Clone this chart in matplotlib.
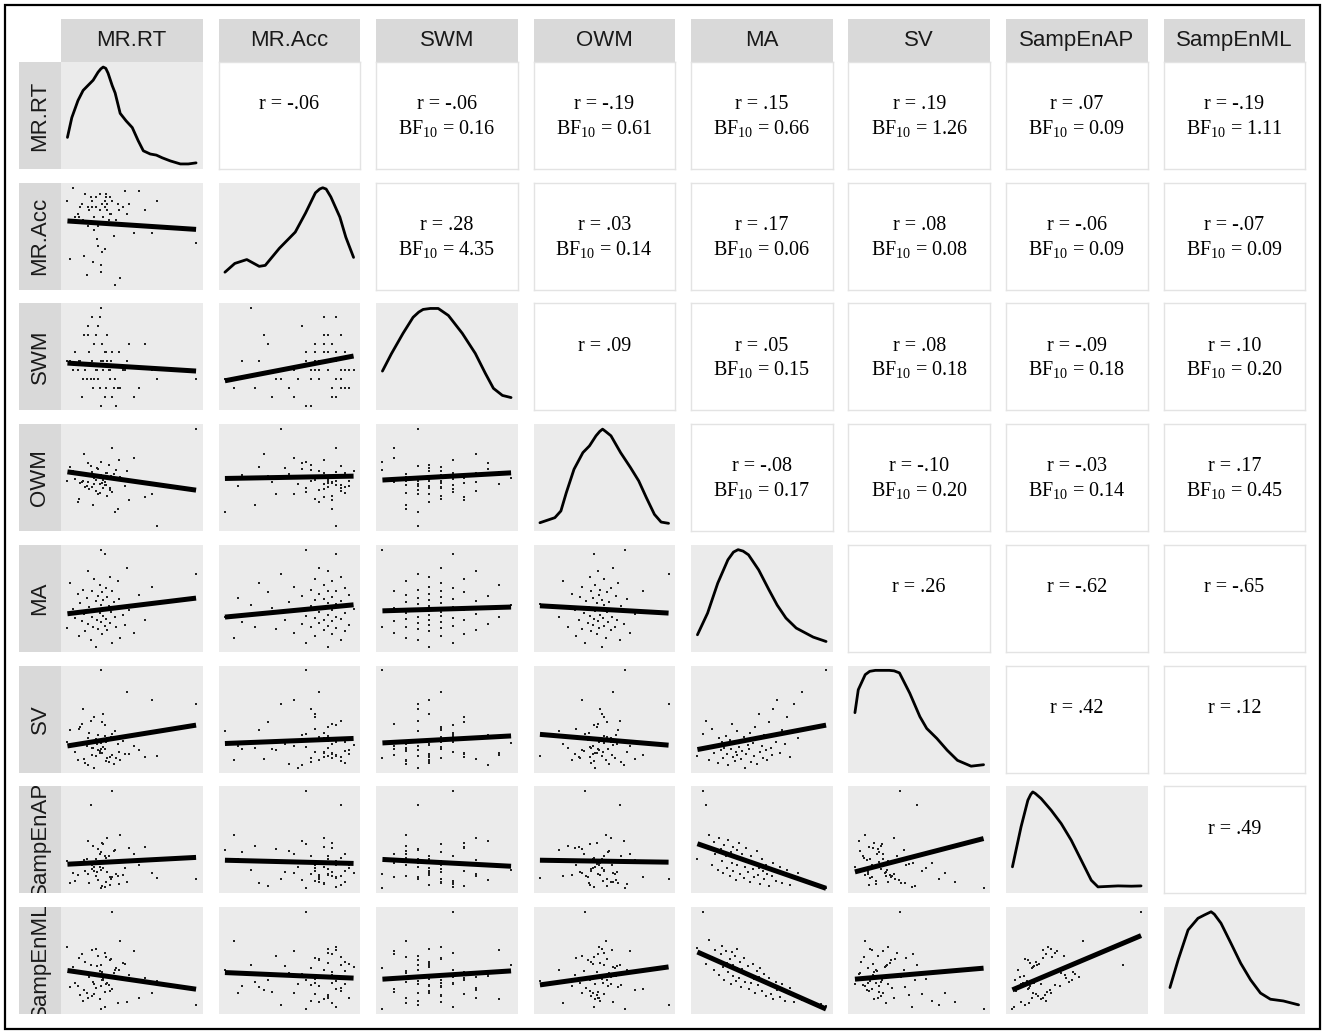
import numpy as np
import matplotlib
matplotlib.use("Agg")
import matplotlib.pyplot as plt
from matplotlib.patches import Rectangle

plt.rcParams['mathtext.fontset'] = 'custom'
plt.rcParams['mathtext.rm'] = 'Liberation Serif'
plt.rcParams['mathtext.default'] = 'rm'

names = ["MR.RT", "MR.Acc", "SWM", "OWM", "MA", "SV", "SampEnAP", "SampEnML"]

# participant scores (one entry per participant)
mr_rt = [22, 35, 18, 41, 9, 27, 52, 14, 31, 24, 0, 38, 20, 29, 45, 16, 33, 26, 11, 60, 23, 30,
         6, 37, 19, 28, 43, 13, 25, 34, 21, 48, 4, 29, 17, 32, 26, 70, 10, 36, 22, 28, 40, 15,
         31, 24, 56, 8, 27, 19, 35, 12, 30, 66, 25, 2, 39, 21, 33, 100, 16, 46, 29, 26]
mr_acc = [34, 29, 37, 12, 31, 35, 26, 38, 33, 22, 36, 30, 17, 34, 39, 28, 32, 14, 35, 33, 24, 37,
          31, 10, 36, 29, 34, 19, 38, 32, 27, 35, 40, 21, 33, 30, 16, 36, 34, 25, 37, 31, 33, 13,
          35, 28, 39, 32, 20, 34, 36, 30, 38, 26, 33, 18, 35, 31, 37, 23, 34, 32, 36, 29]
swm = [5, 7, 4, 3, 6, 8, 2, 5, 9, 4, 6, 1, 3, 7, 5, 10, 4, 6, 2, 8, 5, 3, 7, 4, 11, 6, 5, 9, 3, 6,
       4, 8, 5, 2, 7, 5, 12, 4, 6, 3, 9, 5, 7, 4, 6, 10, 3, 5, 8, 6, 2, 4, 7, 5, 11, 6, 3, 8, 5, 4,
       9, 6, 7, 1]
owm = [48, 35, 62, 51, 28, 44, 70, 40, 55, 33, 46, 58, 22, 50, 41, 65, 37, 53, 45, 30, 60, 42,
       49, 15, 56, 39, 47, 74, 34, 52, 43, 27, 57, 45, 38, 63, 50, 0, 44, 54, 36, 48, 68, 41,
       31, 59, 46, 25, 52, 40, 80, 47, 55, 33, 43, 61, 18, 50, 39, 100, 45, 57, 42, 66]
ma = [0, 4, 7, 9, 11, 13, 14, 16, 17, 18, 19, 20, 21, 22, 23, 24, 25, 26, 27, 28, 28, 29, 30, 31,
      31, 32, 33, 34, 35, 36, 37, 38, 39, 40, 41, 42, 43, 44, 45, 46, 47, 48, 49, 50, 51, 52, 53,
      54, 56, 57, 58, 59, 61, 62, 64, 66, 68, 70, 72, 75, 78, 81, 96, 100]
sv = [12, 35, 48, 8, 40, 15, 22, 5, 30, 18, 26, 10, 20, 33, 14, 3, 28, 19, 45, 11, 24, 7, 16, 38,
      13, 21, 27, 9, 17, 31, 0, 14, 23, 19, 36, 6, 25, 12, 42, 4, 29, 55, 16, 22, 10, 34, 18, 8,
      47, 20, 13, 60, 26, 70, 15, 39, 24, 52, 11, 65, 30, 78, 44, 100]
sampen_ap = [30, 100, 86, 55, 24, 47, 35, 18, 52, 40, 28, 15, 44, 33, 21, 49, 12, 37, 26, 42, 17,
             31, 8, 39, 24, 46, 14, 29, 35, 10, 22, 41, 16, 27, 6, 33, 19, 11, 25, 38, 13, 21,
             4, 30, 17, 9, 24, 14, 2, 20, 12, 26, 7, 16, 22, 5, 13, 18, 3, 10, 15, 7, 1, 0]
sampen_ml = [62, 100, 45, 70, 52, 38, 60, 48, 33, 55, 64, 42, 28, 58, 46, 36, 50, 24, 57, 32, 44,
             53, 27, 40, 61, 30, 47, 20, 39, 51, 26, 35, 43, 18, 33, 25, 45, 29, 14, 37, 22, 31,
             40, 16, 27, 34, 11, 24, 30, 13, 21, 8, 26, 17, 10, 23, 6, 15, 19, 4, 11, 7, 2, 0]

# density curves (x in variable units, height relative to peak)
dens_x = {
    "MR.RT": [0, 3.4, 8.2, 12.2, 15.9, 20, 23.8, 26, 27.8, 29.8, 31.6, 34.8, 37.1, 41, 45.6, 50.4,
              55, 59, 64.4, 69.1, 73.7, 80, 87.8, 94, 100],
    "MR.Acc": [10, 12.3, 15.1, 18.0, 19.4, 22.7, 26.4, 28.8, 31.1, 32.1, 32.8, 33.6, 34.7, 36.8,
               38.2, 40],
    "SWM": [1.0, 1.77, 2.76, 3.62, 4.1, 4.48, 5.1, 5.77, 6.64, 7.83, 8.94, 9.8, 10.49, 11.26, 12.0],
    "OWM": [0, 11.6, 16.3, 20.5, 26.5, 33.4, 38.5, 43.6, 46.5, 48.7, 51, 55.2, 62.7, 70.4, 76.8,
            82.7, 89, 94.2, 100],
    "MA": [0, 7.9, 15.8, 23.7, 28, 31.6, 35.5, 39.7, 47.6, 55.6, 62, 68.8, 76.8, 90, 100],
    "SV": [0, 2.6, 8, 11.5, 15.9, 26.7, 30.5, 34.6, 42.6, 50.5, 55.8, 63.7, 71.7, 79.7, 90.3, 100],
    "SampEnAP": [0, 6.7, 12, 14.2, 15.8, 17.8, 22.3, 30.1, 37.9, 45.7, 53.5, 61.3, 66.5, 82.1,
                 92.5, 100],
    "SampEnML": [0, 6.4, 14.1, 21.8, 26.8, 32, 34.5, 39.7, 47.4, 55, 62.7, 70.4, 78.1, 88.2, 100],
}
dens_h = {
    "MR.RT": [.275, .478, .654, .758, .808, .863, .945, .98, .998, .985, .935, .808, .731, .522,
              .445, .376, .241, .137, .104, .093, .065, .033, .002, .002, .013],
    "MR.Acc": [.13, .22, .26, .19, .20, .376, .542, .738, .946, .985, .998, .985, .904, .697,
               .489, .282],
    "SWM": [.354, .533, .742, .907, .96, .988, .998, .998, .926, .742, .536, .331, .177, .104,
            .082],
    "OWM": [.036, .088, .157, .345, .586, .757, .826, .93, .975, .998, .975, .93, .757, .603, .466,
            .295, .122, .043, .03],
    "MA": [.125, .348, .656, .896, .975, 1.0, .985, .947, .792, .587, .43, .297, .194, .101, .056],
    "SV": [.565, .801, .956, .99, 1.0, 1.0, .995, .974, .766, .524, .403, .3, .179, .075, .015,
           .03],
    "SampEnAP": [.221, .632, .906, .965, .991, .975, .923, .803, .666, .495, .289, .083, .015,
                 .025, .022, .025],
    "SampEnML": [.221, .506, .813, .933, .967, 1.0, .975, .882, .677, .471, .3, .164, .101, .083,
                 .043],
}

# fitted line: (row var at min of column var, row var at max of column var)
fit_lines = {
    ("MR.Acc", "MR.RT"): (29.7, 27.1),
    ("SWM", "MR.RT"): (5.8, 4.9), ("SWM", "MR.Acc"): (3.8, 6.6),
    ("OWM", "MR.RT"): (55.9, 37.1), ("OWM", "MR.Acc"): (49.1, 51.5), ("OWM", "SWM"): (47.5, 54.9),
    ("MA", "MR.RT"): (34.1, 50.2), ("MA", "MR.Acc"): (30.7, 43.3), ("MA", "SWM"): (37.1, 41.0),
    ("MA", "OWM"): (42.3, 34.8),
    ("SV", "MR.RT"): (22.3, 43.7), ("SV", "MR.Acc"): (24.8, 30.0), ("SV", "SWM"): (25.4, 32.6),
    ("SV", "OWM"): (34.2, 23.1), ("SV", "MA"): (18.6, 43.7),
    ("SampEnAP", "MR.RT"): (24.8, 31.8), ("SampEnAP", "MR.Acc"): (28.9, 25.6),
    ("SampEnAP", "SWM"): (29.7, 22.7), ("SampEnAP", "OWM"): (28.9, 26.9),
    ("SampEnAP", "MA"): (45.6, -0.5), ("SampEnAP", "SV"): (16.9, 51.2),
    ("SampEnML", "MR.RT"): (39.6, 20.4), ("SampEnML", "MR.Acc"): (37.5, 31.8),
    ("SampEnML", "SWM"): (30.7, 39.2), ("SampEnML", "OWM"): (24.8, 43.3),
    ("SampEnML", "MA"): (57.4, -3.0), ("SampEnML", "SV"): (30.7, 42.0),
    ("SampEnML", "SampEnAP"): (19.7, 75.5),
}

# upper triangle statistics
r_vals = {
    ("MR.RT", "MR.Acc"): "-.06", ("MR.RT", "SWM"): "-.06", ("MR.RT", "OWM"): "-.19",
    ("MR.RT", "MA"): ".15", ("MR.RT", "SV"): ".19", ("MR.RT", "SampEnAP"): ".07",
    ("MR.RT", "SampEnML"): "-.19",
    ("MR.Acc", "SWM"): ".28", ("MR.Acc", "OWM"): ".03", ("MR.Acc", "MA"): ".17",
    ("MR.Acc", "SV"): ".08", ("MR.Acc", "SampEnAP"): "-.06", ("MR.Acc", "SampEnML"): "-.07",
    ("SWM", "OWM"): ".09", ("SWM", "MA"): ".05", ("SWM", "SV"): ".08",
    ("SWM", "SampEnAP"): "-.09", ("SWM", "SampEnML"): ".10",
    ("OWM", "MA"): "-.08", ("OWM", "SV"): "-.10", ("OWM", "SampEnAP"): "-.03",
    ("OWM", "SampEnML"): ".17",
    ("MA", "SV"): ".26", ("MA", "SampEnAP"): "-.62", ("MA", "SampEnML"): "-.65",
    ("SV", "SampEnAP"): ".42", ("SV", "SampEnML"): ".12",
    ("SampEnAP", "SampEnML"): ".49",
}
bf_vals = {
    ("MR.RT", "SWM"): "0.16", ("MR.RT", "OWM"): "0.61", ("MR.RT", "MA"): "0.66",
    ("MR.RT", "SV"): "1.26", ("MR.RT", "SampEnAP"): "0.09", ("MR.RT", "SampEnML"): "1.11",
    ("MR.Acc", "SWM"): "4.35", ("MR.Acc", "OWM"): "0.14", ("MR.Acc", "MA"): "0.06",
    ("MR.Acc", "SV"): "0.08", ("MR.Acc", "SampEnAP"): "0.09", ("MR.Acc", "SampEnML"): "0.09",
    ("SWM", "MA"): "0.15", ("SWM", "SV"): "0.18", ("SWM", "SampEnAP"): "0.18",
    ("SWM", "SampEnML"): "0.20",
    ("OWM", "MA"): "0.17", ("OWM", "SV"): "0.20", ("OWM", "SampEnAP"): "0.14",
    ("OWM", "SampEnML"): "0.45",
}

data = {"MR.RT": mr_rt, "MR.Acc": mr_acc, "SWM": swm, "OWM": owm, "MA": ma, "SV": sv,
        "SampEnAP": sampen_ap, "SampEnML": sampen_ml}

W, H = 1325, 1034
fig = plt.figure(figsize=(W / 100, H / 100), dpi=100)
fig.patch.set_facecolor("white")

left0, top0 = 61, 62
pw, ph = 141.5, 107
px, py = 157.5, 120.7
strip_c = "#D9D9D9"
panel_c = "#EBEBEB"


def add_ax(x, y, w, h):
    return fig.add_axes([x / W, 1 - (y + h) / H, w / W, h / H])


def expand(lo, hi):
    d = (hi - lo) * 0.05
    return lo - d, hi + d


def clean(ax, fc):
    ax.set_facecolor(fc)
    ax.set_xticks([])
    ax.set_yticks([])


# column strips
for j, nm in enumerate(names):
    ax = add_ax(left0 + j * px, 19, pw, top0 - 19)
    clean(ax, strip_c)
    for s in ax.spines.values():
        s.set_visible(False)
    ax.text(0.5, 0.5, nm, ha="center", va="center", fontsize=16,
            family="Liberation Sans", color="#1a1a1a", transform=ax.transAxes, clip_on=True)

# row strips
for i, nm in enumerate(names):
    ax = add_ax(19, top0 + i * py, left0 - 19, ph)
    clean(ax, strip_c)
    for s in ax.spines.values():
        s.set_visible(False)
    ax.text(0.5, 0.5, nm, ha="center", va="center", rotation=90, fontsize=16,
            family="Liberation Sans", color="#1a1a1a", transform=ax.transAxes, clip_on=True)

for i, rn in enumerate(names):
    for j, cn in enumerate(names):
        ax = add_ax(left0 + j * px, top0 + i * py, pw, ph)
        xv = np.array(data[cn], dtype=float)
        if i == j:
            clean(ax, panel_c)
            for s in ax.spines.values():
                s.set_visible(False)
            ax.plot(dens_x[cn], dens_h[cn], color="black", lw=2.0,
                    solid_joinstyle="round", solid_capstyle="round")
            ax.set_xlim(*expand(xv.min(), xv.max()))
            ax.set_ylim(*expand(0, 1))
        elif i > j:
            clean(ax, panel_c)
            for s in ax.spines.values():
                s.set_visible(False)
            yv = np.array(data[rn], dtype=float)
            y0, y1 = fit_lines[(rn, cn)]
            ax.scatter(xv, yv, s=3.5, marker="s", color="#222222", linewidths=0)
            ax.plot([xv.min(), xv.max()], [y0, y1], color="black", lw=3.6,
                    solid_capstyle="butt")
            ax.set_xlim(*expand(xv.min(), xv.max()))
            ax.set_ylim(*expand(min(yv.min(), y0, y1), max(yv.max(), y0, y1)))
        else:
            clean(ax, "white")
            for s in ax.spines.values():
                s.set_color("#E3E3E3")
                s.set_linewidth(1.0)
            ax.text(0.5, 0.60, "r = " + r_vals[(rn, cn)], ha="center", va="center",
                    fontsize=14.5, family="Liberation Serif", transform=ax.transAxes)
            if (rn, cn) in bf_vals:
                ax.text(0.5, 0.38, "BF$_{10}$ = " + bf_vals[(rn, cn)], ha="center",
                        va="center", fontsize=14.5, family="Liberation Serif",
                        transform=ax.transAxes)

# outer frame
fig.patches.append(Rectangle((5 / W, 1 - 1029 / H), 1315 / W, 1024 / H, fill=False,
                             edgecolor="black", lw=1.6, transform=fig.transFigure))

fig.savefig("out.png", dpi=100)
